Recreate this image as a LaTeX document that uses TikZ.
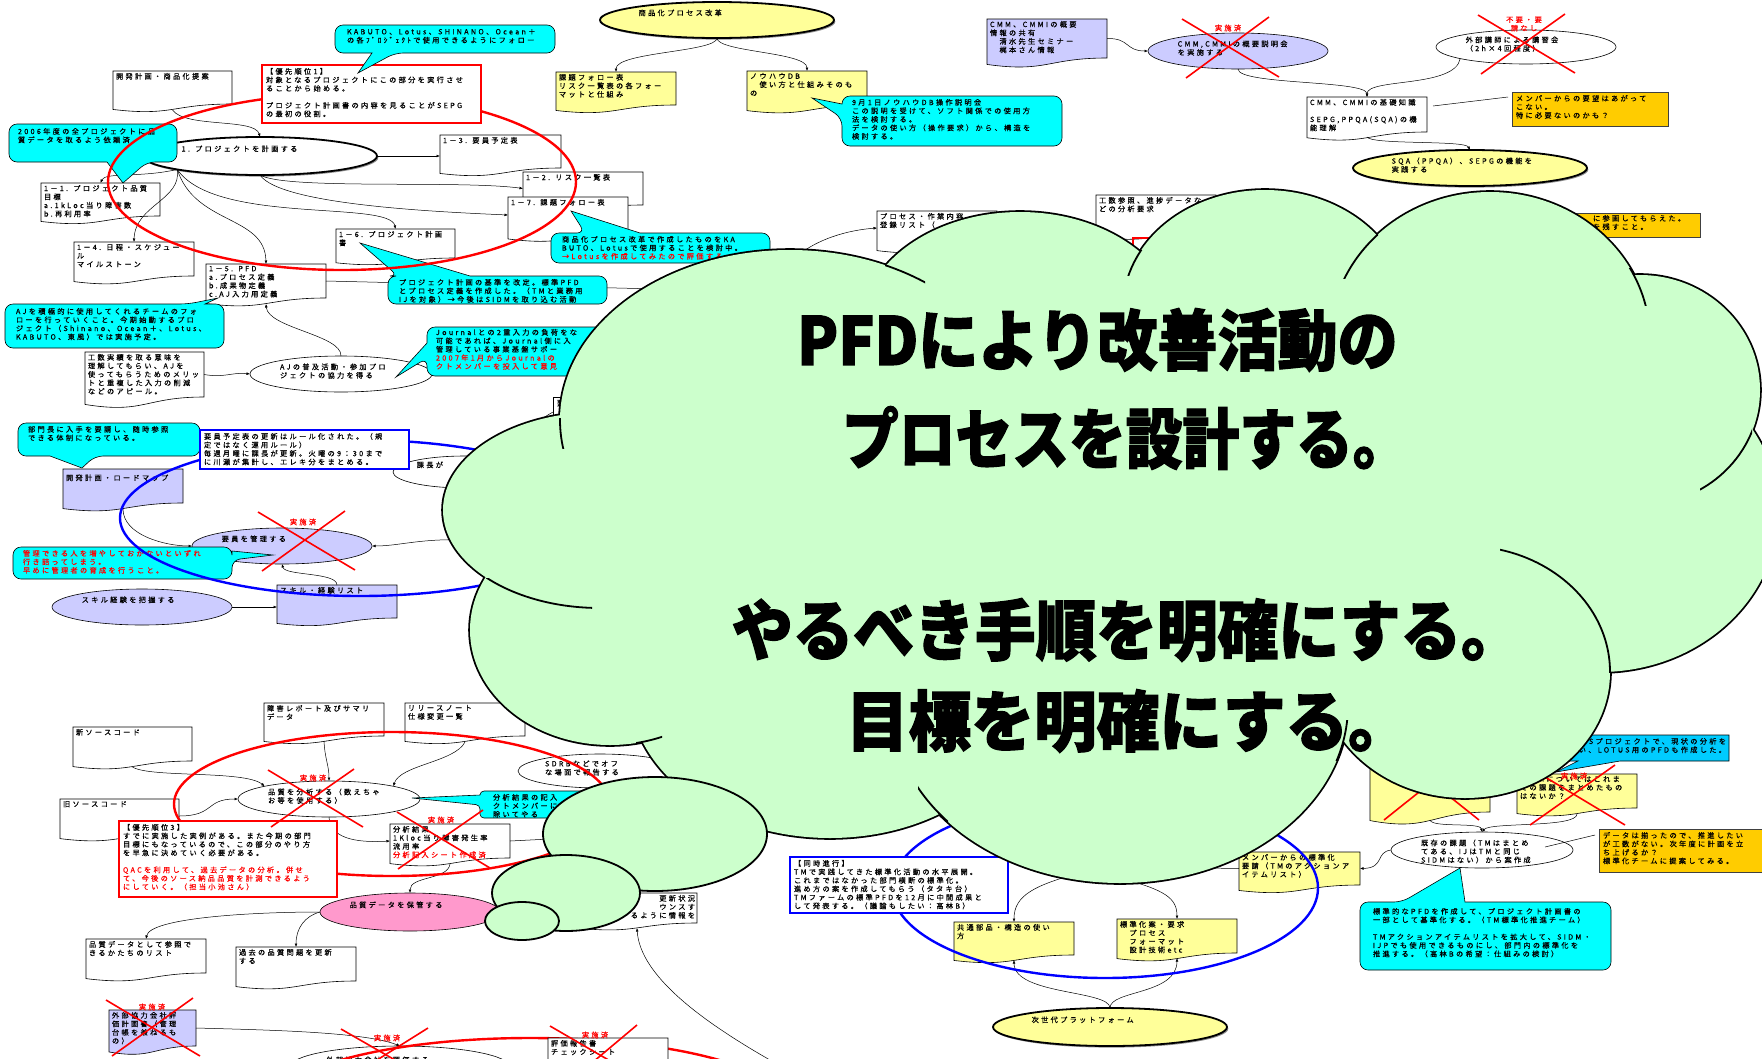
\documentclass[tikz,border=0pt]{standalone}
\usepackage{fontspec}
\usepackage{graphicx}
\usetikzlibrary{shapes.geometric,arrows.meta,calc}
\newfontfamily\jp{Noto Sans CJK JP}[LetterSpace=32,FakeBold=0.5]
\newfontfamily\heavy{Noto Sans CJK JP}[FakeBold=2]
\newcommand\jpf{\jp\fontsize{7.2}{8.5}\selectfont}
\definecolor{cyanf}{HTML}{00FFFF}
\definecolor{skyf}{HTML}{00CCFF}
\definecolor{lilac}{HTML}{CCCCFF}
\definecolor{lemon}{HTML}{FFFF99}
\definecolor{amber}{HTML}{FFCC00}
\definecolor{pinkf}{HTML}{FF99CC}
\definecolor{mint}{HTML}{CCFFCC}
\definecolor{redl}{HTML}{FF0000}
\definecolor{bluel}{HTML}{0000FF}

% document shape with wavy bottom: name, fill, x, y, w, h, text
\newcommand\mydoc[7]{%
  \node[docframe,minimum width=#5pt,minimum height=#6pt,anchor=north west] (#1) at (#3,#4) {};
  \filldraw[docline,fill=#2] (#1.north west) -- (#1.north east) -- (#1.south east)
    .. controls (#1.south) and ($(#1.south)+(0,0.38*#6)$) .. ($(#1.south west)+(0,0.165*#6)$) -- cycle;
  \node[txt,anchor=north west] (#1t) at ($(#1.north west)+(3,2)$) {#7};
}
% ellipse with text set in its upper left part: name, style, cx, cy, w, h, text
\newcommand\myell[7]{%
  \node[ell,#2,minimum width=#5pt,minimum height=#6pt] (#1) at (#3,#4) {};
  \node[txt,anchor=north west] (#1t) at ({#3-0.335*#5},{#4-10.5}) {#7};
}
% framed rectangle: name, style, x, y, w, h, text
\newcommand\mybox[7]{%
  \node[rectangle,#2,minimum width=#5pt,minimum height=#6pt,anchor=north west] (#1) at (#3,#4) {};
  \node[txt,anchor=north west] (#1t) at ($(#1.north west)+(4,3)$) {#7};
}
% speech bubbles: style, x1, y1, x2, y2, base1, base2, tip x, tip y
\newcommand\calltop[9]{\filldraw[callshape,#1] (#7,#3) -- (#4,#3) -- (#4,#5) -- (#2,#5) -- (#2,#3) -- (#6,#3) [sharp corners] -- (#8,#9) -- cycle;}
\newcommand\callbot[9]{\filldraw[callshape,#1] (#6,#5) -- (#2,#5) -- (#2,#3) -- (#4,#3) -- (#4,#5) -- (#7,#5) [sharp corners] -- (#8,#9) -- cycle;}
\newcommand\callleft[9]{\filldraw[callshape,#1] (#2,#6) -- (#2,#3) -- (#4,#3) -- (#4,#5) -- (#2,#5) -- (#2,#7) [sharp corners] -- (#8,#9) -- cycle;}
\newcommand\callright[9]{\filldraw[callshape,#1] (#4,#6) -- (#4,#3) -- (#2,#3) -- (#2,#5) -- (#4,#5) -- (#4,#7) [sharp corners] -- (#8,#9) -- cycle;}

\begin{document}
\begin{tikzpicture}[x=1pt,y=-1pt,
  every node/.style={inner sep=0pt,outer sep=0pt},
  docframe/.style={rectangle,draw=none,fill=none},
  docline/.style={draw=black,line width=0.6pt},
  txt/.style={align=left,font=\jpf},
  conn/.style={draw=black,line width=0.5pt},
  arr/.style={conn,-{Latex[length=3.5pt,width=2.8pt]}},
  ell/.style={ellipse,draw=black,line width=0.6pt},
  boldell/.style={line width=1.8pt,preaction={fill=black!45,transform canvas={xshift=1.3pt,yshift=-1.6pt}}},
  callshape/.style={draw=black,line width=0.6pt,rounded corners=8pt},
  xmark/.style={draw=redl,line width=1.6pt},
  done/.style={text=redl,font=\jpf,align=center},
  redring/.style={draw=redl,line width=2.4pt},
  bluering/.style={draw=bluel,line width=2.4pt},
  cloudline/.style={draw=black,line width=1.8pt},
  bigtext/.style={anchor=west,font=\heavy\bfseries\fontsize{66}{70}\selectfont}
]
\useasboundingbox (0,0) rectangle (1762,1058);
\fill[white] (0,0) rectangle (1762,1058);

% ---------- project planning tree
\mydoc{kaihatsu}{white}{113}{71}{119}{33}{開発計画・商品化提案}
\myell{plan}{boldell,fill=white}{260}{156}{234}{38}{1. プロジェクトを計画する}
\mydoc{b13}{white}{440}{135}{121}{33}{1－3. 要員予定表}
\mydoc{b12}{white}{523}{172}{120}{33}{1－2. リスク一覧表}
\mydoc{b17}{white}{508}{197}{120}{36}{1－7. 課題フォロー表}
\mydoc{b11}{white}{41}{183}{119}{33}{1－1. プロジェクト品質\\目標\\a.1kLoc当り障害数\\b.再利用率}
\mydoc{b14}{white}{74}{242}{120}{34}{1－4. 日程・スケジュー\\ル\\マイルストーン}
\mydoc{b15}{white}{206}{264}{120}{34}{1－5. PFD\\a.プロセス定義\\b.成果物定義\\c.AJ入力用定義}
\mydoc{b16}{white}{336}{229}{119}{29}{1－6. プロジェクト計画\\書}

% ---------- product process reform
\mydoc{ykadai}{lemon}{556}{72}{120}{33}{課題フォロー表\\リスク一覧表の各フォー\\マットと仕組み}
\mydoc{yknow}{lemon}{747}{71}{120}{34}{ノウハウDB\\　使い方と仕組みそのも\\の}
\myell{shohin}{boldell,fill=lemon}{717}{20}{234}{36}{商品化プロセス改革}

% ---------- CMM / SEPG
\mydoc{cmmshare}{lilac}{987}{19}{120}{39}{CMM、CMMIの概要\\情報の共有\\　清水先生セミナー\\　梶本さん情報}
\myell{cmmtalk}{fill=lilac}{1238}{51}{180}{36}{CMM,CMMIの概要説明会\\を実施する}
\myell{lecture}{fill=white}{1526}{47}{180}{34}{外部講師による講習会\\（2h×4回程度）}
\mydoc{cmmbase}{white}{1307}{97}{120}{35}{CMM、CMMIの基礎知識\\[8.5pt]SEPG,PPQA(SQA)の機\\能理解}
\mybox{amber1}{draw=black!75,fill=amber,line width=0.7pt}{1512}{92}{156}{34}{メンバーからの要望はあがって\\こない。\\特に必要ないのかも？}
\myell{sqa}{boldell,fill=lemon}{1470}{168}{234}{36}{SQA（PPQA）、SEPGの機能を\\実践する}
\mybox{amber2}{draw=black!75,fill=amber,line width=0.7pt}{1480}{213}{220}{24}{}
\node[txt,anchor=north west] (amber2r) at (1593,215) {に参画してもらえた。\\を残すこと。};

% ---------- items partly under the cloud
\mydoc{procreg}{white}{877}{211}{120}{34}{プロセス・作業内容\\登録リスト（}
\mydoc{kosuref}{white}{1096}{195}{120}{36}{工数参照、進捗データな\\どの分析要求}
\node[rectangle,draw=redl,line width=1.5pt,minimum width=127pt,minimum height=62pt,anchor=north west] (redhid) at (1133,238) {};

% ---------- AJ and staffing
\mydoc{kosu}{white}{85}{352}{119}{45}{工数実績を取る意味を\\理解してもらい、AJを\\使ってもらうためのメリッ\\トと重複した入力の削減\\などのアピール。}
\myell{aj}{fill=white}{341}{374}{182}{36}{AJの普及活動・参加プロ\\ジェクトの協力を得る}
\myell{kacho}{fill=white}{465}{472}{144}{32}{課長が}
\mybox{yobox}{draw=black,line width=0.6pt,fill=white}{553}{397}{80}{30}{要}
\mydoc{roadmap}{lilac}{63}{469}{120}{34}{\mbox{}\\[1pt]開発計画・ロードマップ}
\myell{yoinkanri}{fill=lilac}{282}{546}{180}{36}{要員を管理する}
\mydoc{skill}{lilac}{277}{585}{120}{33}{スキル・経験リスト}
\myell{skillget}{fill=lilac}{142}{607}{180}{36}{スキル経験を把握する}

% ---------- quality data
\mydoc{shogai}{white}{264}{703}{120}{33}{障害レポート及びサマリ\\データ}
\mydoc{release}{white}{405}{703}{120}{33}{リリースノート\\仕様変更一覧}
\mydoc{newsrc}{white}{73}{727}{119}{34}{新ソースコード}
\mydoc{oldsrc}{white}{60}{799}{119}{34}{旧ソースコード}
\myell{bunseki}{fill=white}{329}{799}{182}{36}{品質を分析する（数えちゃ\\お等を使用する）}
\myell{sdrb}{fill=white}{600}{771}{164}{34}{SDRBなどでオフ\\な場面で報告する}
\mydoc{kekka}{white}{390}{824}{120}{34}{分析結果\\1Kloc当り障害発生率\\流用率\\\textcolor{redl}{分析記入シート作成済}}
\myell{hokan}{fill=pinkf}{410}{912}{180}{38}{品質データを保管する}
\mydoc{qlist}{white}{86}{939}{120}{34}{品質データとして参照で\\きるかたちのリスト}
\mydoc{pastq}{white}{236}{947}{120}{34}{過去の品質問題を更新\\する}
\mydoc{gaibuplan}{lilac}{109}{1010}{87}{36}{外部協力会社評\\価計画書（管理\\台帳を兼ねるも\\の）}
\myell{gaibueval}{fill=white}{400}{1067}{220}{42}{外部協力会社を評価する}
\mydoc{kosin}{white}{577}{893}{120}{30}{}
\node[txt,align=right,anchor=north east] (kosinr) at (695,895) {更新状況\\ウンスす\\るように情報を};

% ---------- standardisation
\mydoc{kyotsu}{lemon}{954}{922}{120}{33}{共通部品・構造の使い\\方}
\mydoc{hyojun}{lemon}{1117}{919}{120}{34}{標準化案・要求\\　プロセス\\　フォーマット\\　設計技術etc}
\myell{jisedai}{boldell,fill=lemon}{1110}{1027}{234}{38}{次世代プラットフォーム}
\mydoc{memreq}{lemon}{1239}{852}{121}{33}{メンバーからの標準化\\要請（TMのアクションア\\イテムリスト）}
\myell{kizon}{fill=white}{1482}{850}{182}{36}{既存の課題（TMはまとめ\\てある、IJはTMと同じ\\SIDMはない）から案作成}
\mydoc{hidbox}{lemon}{1370}{760}{120}{52}{}
\mydoc{sidm}{lemon}{1517}{774}{120}{34}{SIDMについてはこれま\\での課題をまとめたもの\\はないか？}
\mybox{amber3}{draw=black!75,fill=amber,line width=0.7pt}{1599}{829}{163}{43}{データは揃ったので、推進したい\\が工数がない。次年度に計画を立\\ち上げるか？\\標準化チームに提案してみる。}

% ---------- connectors
\draw[arr] ($(kaihatsu.south)+(0,6)$) .. controls (185,128) and (255,118) .. (plan.north);
\draw[arr] (plan.east) -- (b13.west |- plan.east);
\draw[arr] (plan.south west) .. controls (140,178) and (105,172) .. (b11.north);
\draw[arr] (plan.south west) .. controls (182,200) and (135,205) .. (b14.north);
\draw[arr] (plan.south west) .. controls (195,225) and (265,215) .. (b15.north);
\draw[arr] (plan.south west) .. controls (215,225) and (390,200) .. (b16.north);
\draw[arr] (plan.south) .. controls (285,190) and (460,180) .. (b12.west);
\draw[arr] (plan.south) .. controls (280,205) and (440,212) .. (b17.west);
\coordinate (sink1) at (700,290);
\draw[conn] (b15.east) -- (sink1);
\draw[arr] (kosu.east) .. controls (225,378) and (232,372) .. (aj.west);
\draw[arr] (aj.north) .. controls (342,335) and (268,328) .. ($(b15.south)+(0,6)$);
\draw[conn] (kacho.30) .. controls (505,445) and (530,425) .. (yobox.west);

\draw[arr] (shohin.south) .. controls (717,52) and (616,52) .. (ykadai.north);
\draw[arr] (shohin.south) .. controls (717,52) and (807,52) .. (yknow.north);
\coordinate (src1) at (790,262);
\draw[arr] (src1) .. controls (815,238) and (850,230) .. (procreg.west);

\draw[arr] (cmmshare.east) .. controls (1130,38) and (1125,51) .. (cmmtalk.west);
\draw[arr] (cmmtalk.south) .. controls (1238,85) and (1367,80) .. (cmmbase.north);
\draw[arr] (lecture.190) .. controls (1455,88) and (1367,78) .. (cmmbase.north);
\draw[conn] ($(cmmbase.north east)+(6,9)$) -- ($(amber1.north west)+(-4,5)$);
\draw[arr] ($(cmmbase.south)+(0,5)$) .. controls (1372,145) and (1465,140) .. (sqa.north);

\draw[arr] (skillget.east) -- (skill.west |- skillget.east);
\draw[arr] (skill.north) .. controls (337,572) and (285,576) .. (yoinkanri.south);
\draw[arr] ($(roadmap.south)+(0,6)$) .. controls (123,535) and (165,546) .. (yoinkanri.west);
\coordinate (src2) at (470,540);
\draw[arr] (src2) .. controls (420,538) and (400,546) .. (yoinkanri.east);

\draw[arr] ($(newsrc.south)+(0,6)$) .. controls (150,778) and (245,770) .. (bunseki.north west);
\draw[arr] (oldsrc.east) .. controls (215,816) and (205,799) .. (bunseki.west);
\draw[arr] ($(shogai.south)+(0,5)$) .. controls (325,760) and (329,765) .. (bunseki.north);
\draw[arr] ($(release.south)+(0,6)$) .. controls (455,762) and (400,765) .. (bunseki.north east);
\draw[arr] (bunseki.south) .. controls (330,838) and (355,843) .. (kekka.west);
\draw[arr] ($(kekka.south)+(0,6)$) .. controls (448,880) and (410,876) .. (hokan.north);
\draw[arr] (hokan.west) .. controls (250,912) and (150,918) .. (qlist.north);
\draw[arr] (hokan.west) .. controls (305,916) and (296,928) .. (pastq.north);
\draw[arr] (gaibuplan.east) .. controls (270,1030) and (365,1032) .. (gaibueval.north);
\coordinate (src4) at (570,838);
\draw[conn] (kekka.east) -- (src4);
\coordinate (src3) at (770,1060);
\draw[arr] (src3) .. controls (700,1020) and (640,975) .. ($(kosin.south)+(0,5)$);

\draw[arr] (jisedai.north) .. controls (1110,990) and (1014,995) .. ($(kyotsu.south)+(0,5)$);
\draw[arr] (jisedai.north) .. controls (1110,990) and (1177,995) .. ($(hyojun.south)+(0,5)$);
\coordinate (src5) at (1083,872);
\coordinate (src6) at (1120,878);
\draw[arr] (src5) .. controls (1035,885) and (1014,895) .. (kyotsu.north);
\draw[arr] (src6) .. controls (1165,890) and (1177,898) .. (hyojun.north);
\draw[arr] (kizon.west) .. controls (1375,852) and (1385,868) .. (memreq.east);
\coordinate (src7) at (1205,868);
\draw[conn] (memreq.west) -- (src7);
\draw[arr] ($(hidbox.south)+(0,8)$) .. controls (1432,828) and (1480,822) .. (kizon.north);
\draw[arr] ($(sidm.south)+(0,6)$) .. controls (1577,828) and (1490,822) .. (kizon.north);
\draw[conn] ($(kizon.center)+(63,-3)$) -- ($(amber3.north west)+(-4,6)$);

% ---------- speech bubbles
\callbot{fill=cyanf}{9}{124}{177}{162}{107}{147}{123}{183}
\node[txt,anchor=north west] (c2006) at (18,128) {2006年度の全プロジェクトに品\\質データを取るよう依頼済};
\calltop{fill=cyanf}{551}{233}{770}{263}{585}{640}{571}{211}
\node[txt,anchor=north west] (c17) at (562,236) {商品化プロセス改革で作成したものをKA\\BUTO、Lotusで使用することを検討中。\\\textcolor{redl}{→Lotusを作成してみたので評価する}};
\calltop{fill=cyanf}{388}{276}{607}{304}{398}{470}{360}{243}
\node[txt,anchor=north west] (cpfd) at (399,279) {プロジェクト計画の基準を改定。標準PFD\\とプロセス定義を作成した。（TMと業務用\\IJを対象）→今後はSIDMを取り込む活動};
\calltop{fill=cyanf}{5}{304}{224}{348}{188}{205}{218}{298}
\node[txt,anchor=north west] (caj) at (16,308) {AJを積極的に使用してくれるチームのフォ\\ローを行っていくこと。今期始動するプロ\\ジェクト（Shinano、Ocean＋、Lotus、\\KABUTO、東風）では実施予定。};
\callleft{fill=cyanf}{842}{96}{1062}{146}{104}{118}{812}{98}
\node[txt,anchor=north west] (c91) at (852,99) {9月1日ノウハウDB操作説明会\\この説明を受けて、ソフト関係での使用方\\法を検討する。\\データの使い方（操作要求）から、構造を\\検討する。};
\callleft{fill=cyanf}{427}{327}{640}{376}{343}{358}{396}{377}
\node[txt,anchor=north west] (cjournal) at (436,329) {Journalとの2重入力の負荷をな\\可能であれば、Journal側に入\\管理している事業基盤サポー\\\textcolor{redl}{2007年1月からJournalの}\\\textcolor{redl}{クトメンバーを投入して意見}};
\callbot{fill=cyanf}{18}{423}{200}{456}{50}{95}{82}{468}
\node[txt,anchor=north west] (cbumon) at (28,426) {部門長に入手を要請し、随時参照\\できる体制になっている。};
\callright{fill=cyanf}{13}{547}{232}{579}{551}{560}{273}{555}
\node[txt,anchor=north west,text=redl] (ckanri) at (23,550) {管理できる人を増やしておかないといずれ\\行き詰ってしまう。\\早めに管理者の育成を行うこと。};
\callleft{fill=cyanf,rounded corners=4pt}{480}{791}{640}{818}{795}{805}{412}{798}
\node[txt,anchor=north west] (ckinyu) at (493,794) {分析結果の記入\\クトメンバーに\\除いてやる};
\calltop{fill=cyanf}{1360}{902}{1611}{970}{1402}{1465}{1460}{868}
\node[txt,anchor=north west] (cstd) at (1373,908) {標準的なPFDを作成して、プロジェクト計画書の\\一部として基準化する。（TM標準化推進チーム）\\[8.5pt]TMアクションアイテムリストを拡大して、SIDM・\\IJPでも使用できるものにし、部門内の標準化を\\推進する。（高林Bの希望：仕組みの検討）};
\callbot{fill=skyf,sharp corners}{1495}{735}{1729}{761}{1578}{1620}{1556}{772}
\node[txt,align=right,anchor=north east] (clotus) at (1726,738) {Sプロジェクトで、現状の分析を\\い、LOTUS用のPFDも作成した。};

% ---------- grouping rings
\draw[redring] (342,182) ellipse [x radius=234pt,y radius=88pt];
\draw[redring] (392,804) ellipse [x radius=218pt,y radius=72pt];
\draw[redring] (530,1108) ellipse [x radius=260pt,y radius=70pt];
\draw[bluering] (360,518) ellipse [x radius=240pt,y radius=78pt];
\draw[bluering] (1105,888) ellipse [x radius=213pt,y radius=90pt];

% ---------- notes laid over the rings
\mybox{prio1}{draw=redl,line width=1.6pt,fill=white}{262}{65}{219}{58}{【優先順位1】\\対象となるプロジェクトにこの部分を実行させ\\ることから始める。\\[8.5pt]プロジェクト計画書の内容を見ることがSEPG\\の最初の役割。}
\callbot{fill=cyanf}{335}{25}{555}{53}{372}{395}{358}{73}
\node[txt,anchor=north west] (kabuto) at (347,29) {KABUTO、Lotus、SHINANO、Ocean＋\\の各ﾌﾟﾛｼﾞｪｸﾄで使用できるようにフォロー};
\mybox{prio3}{draw=redl,line width=1.6pt,fill=white}{119}{821}{218}{76}{【優先順位3】\\すでに実施した実例がある。また今期の部門\\目標にもなっているので、この部分のやり方\\を早急に決めていく必要がある。\\[8.5pt]\textcolor{redl}{QACを利用して、過去データの分析。併せ}\\\textcolor{redl}{て、今後のソース納品品質を計測できるよう}\\\textcolor{redl}{にしていく。（担当小池さん）}}
\mybox{yoin}{draw=bluel,line width=2pt,fill=white}{200}{430}{209}{39}{要員予定表の更新はルール化された。（規\\定ではなく運用ルール）\\毎週月曜に課長が更新。火曜の9：30まで\\に川瀬が集計し、エレキ分をまとめる。}
\mybox{doji}{draw=bluel,line width=2pt,fill=white}{790}{857}{218}{56}{【同時進行】\\TMで実践してきた標準化活動の水平展開。\\これまではなかった部門横断の標準化。\\進め方の案を作成してもらう（タタキ台）\\TMファームの標準PFDを12月に中間成果と\\して発表する。（議論もしたい：高林B）}
\mydoc{hyoka}{white}{548}{1038}{120}{33}{評価報告書\\チェックシート}

% ---------- crossed-out items
\draw[xmark] (258,512) -- (355,570); \draw[xmark] (345,511) -- (262,571);
\node[done] (d1) at (303,522) {実施済};
\draw[xmark] (1182,19) -- (1279,77); \draw[xmark] (1269,17) -- (1186,78);
\node[done] (d2) at (1228,28) {実施済};
\draw[xmark] (1478,15) -- (1575,73); \draw[xmark] (1565,14) -- (1481,74);
\node[done] (d3) at (1524,24) {不要・要\\請なし};
\draw[xmark] (268,770) -- (363,827); \draw[xmark] (354,769) -- (271,827);
\node[done] (d4) at (313,778) {実施済};
\draw[xmark] (397,812) -- (490,868); \draw[xmark] (398,869) -- (483,810);
\node[done] (d5) at (441,820) {実施済};
\draw[xmark] (106,1000) -- (200,1056); \draw[xmark] (193,998) -- (112,1056);
\node[done] (d6) at (152,1007) {実施済};
\draw[xmark] (341,1029) -- (395,1060); \draw[xmark] (428,1028) -- (377,1060);
\node[done] (d7) at (387,1038) {実施済};
\draw[xmark] (550,1026) -- (612,1062); \draw[xmark] (637,1025) -- (593,1062);
\node[done] (d8) at (595,1035) {実施済};
\draw[xmark] (1384,820) -- (1478,745); \draw[xmark] (1479,820) -- (1385,745);
\draw[xmark] (1535,771) -- (1625,825); \draw[xmark] (1615,765) -- (1530,825);
\node[done] (d9) at (1574,776) {実施済};

% ---------- thought cloud
\def\cloudlobes{600/510/157/98, 790/420/230/170, 1020/330/160/118, 1265/308/142/118, 1490/340/160/148, 1640/390/120/115, 1600/512/178/160, 1465/672/145/126, 1120/705/228/178, 830/690/200/148, 610/630/140/115}
\foreach \cx/\cy/\rx/\ry in \cloudlobes {
  \filldraw[fill=mint,draw=black,line width=3.6pt] (\cx,\cy) ellipse [x radius=\rx*1pt,y radius=\ry*1pt];
}
\fill[mint] (600,510) -- (790,420) -- (1020,330) -- (1265,308) -- (1490,340) -- (1640,390) -- (1600,512) -- (1465,672) -- (1120,705) -- (830,690) -- (610,630) -- cycle;
\foreach \cx/\cy/\rx/\ry in \cloudlobes {
  \fill[mint] (\cx,\cy) ellipse [x radius=\rx*1pt,y radius=\ry*1pt];
}
% inner ends of the lobe arcs
\begin{scope}\clip (548,418) rectangle (580,448); \draw[cloudline] (790,420) ellipse [x radius=230pt,y radius=170pt];\end{scope}
\begin{scope}\clip (486,578) rectangle (592,612); \draw[cloudline] (600,510) ellipse [x radius=157pt,y radius=98pt];\end{scope}
\begin{scope}\clip (636,735) rectangle (662,755); \draw[cloudline] (610,630) ellipse [x radius=140pt,y radius=115pt];\end{scope}
\begin{scope}\clip (918,780) rectangle (948,830); \draw[cloudline] (1120,705) ellipse [x radius=228pt,y radius=178pt];\end{scope}
\begin{scope}\clip (1334,720) rectangle (1350,760); \draw[cloudline] (1120,705) ellipse [x radius=228pt,y radius=178pt];\end{scope}
\begin{scope}\clip (885,262) rectangle (925,300); \draw[cloudline] (790,420) ellipse [x radius=230pt,y radius=170pt];\end{scope}
\begin{scope}\clip (1122,250) rectangle (1142,275); \draw[cloudline] (1265,308) ellipse [x radius=142pt,y radius=118pt];\end{scope}
\begin{scope}\clip (1343,232) rectangle (1378,278); \draw[cloudline] (1490,340) ellipse [x radius=160pt,y radius=148pt];\end{scope}
\begin{scope}\clip (1626,268) rectangle (1650,305); \draw[cloudline] (1490,340) ellipse [x radius=160pt,y radius=148pt];\end{scope}
\begin{scope}\clip (1700,428) rectangle (1752,492); \draw[cloudline] (1640,390) ellipse [x radius=120pt,y radius=115pt];\end{scope}
\begin{scope}\clip (1500,540) rectangle (1612,672); \draw[cloudline] (1465,672) ellipse [x radius=145pt,y radius=126pt];\end{scope}
% trailing bubbles
\filldraw[fill=mint,cloudline] (655,834) ellipse [x radius=112pt,y radius=57pt];
\filldraw[fill=mint,cloudline] (566,893) ellipse [x radius=74pt,y radius=38pt];
\filldraw[fill=mint,cloudline] (522,921) ellipse [x radius=37pt,y radius=19pt];
% cloud message
\node[bigtext] (t1) at (797,340) {\scalebox{0.91}[1]{PFDにより改善活動の}};
\node[bigtext] (t2) at (842,438) {\scalebox{0.86}[1]{プロセスを設計する。}};
\node[bigtext] (t3) at (732,630) {\scalebox{0.92}[1]{やるべき手順を明確にする。}};
\node[bigtext] (t4) at (846,721) {\scalebox{0.95}[1]{目標を明確にする。}};
\end{tikzpicture}
\end{document}
